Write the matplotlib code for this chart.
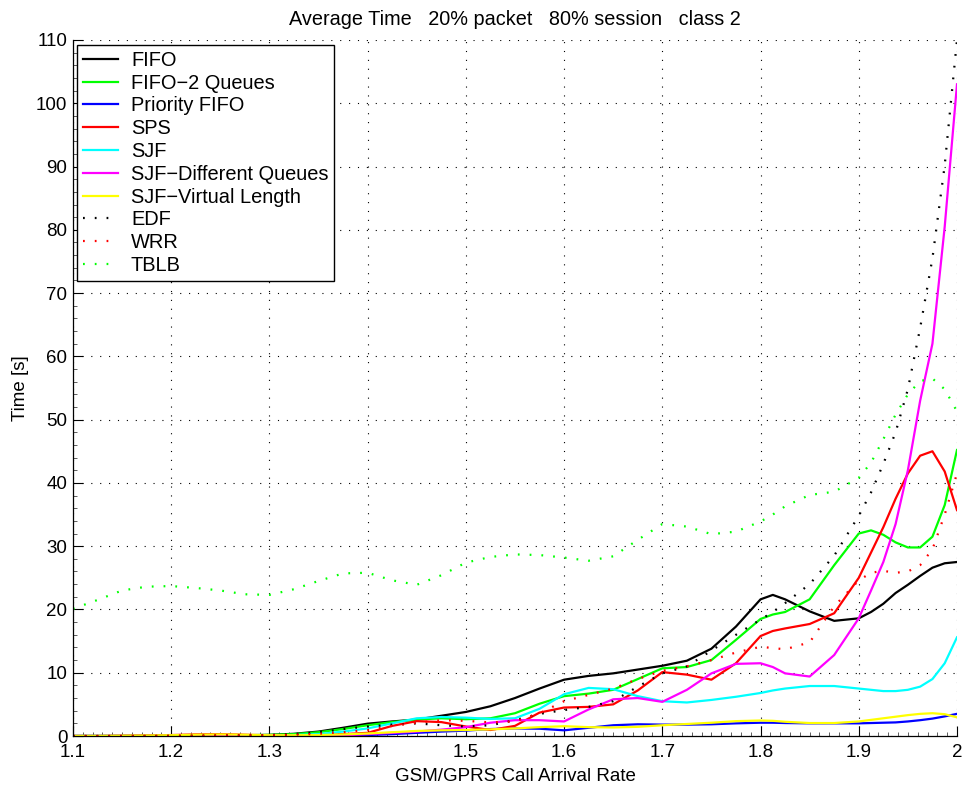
import matplotlib
matplotlib.use("Agg")
import matplotlib.pyplot as plt
from matplotlib.ticker import MultipleLocator, FixedLocator

plt.rcParams['font.family'] = ['Liberation Sans', 'DejaVu Sans']

# x positions (arrival rate) at which values were read
X = [1.1, 1.125, 1.15, 1.175, 1.2, 1.225, 1.25, 1.275, 1.3, 1.325, 1.35, 1.375,
     1.4, 1.425, 1.45, 1.475, 1.5, 1.525, 1.55, 1.575, 1.6, 1.625, 1.65, 1.675,
     1.7, 1.725, 1.75, 1.775, 1.8, 1.8125, 1.825, 1.85, 1.875, 1.9, 1.9125, 1.925,
     1.9375, 1.95, 1.9625, 1.975, 1.9875, 2.0]

fifo = [0, 0, 0, 0, 0.02, 0.05, 0.08, 0.12, 0.18, 0.35, 0.7, 1.3,
        1.95, 2.3, 2.6, 3.2, 3.8, 4.7, 6.0, 7.5, 8.9, 9.5, 9.9, 10.5,
        11.1, 11.9, 13.8, 17.3, 21.6, 22.3, 21.6, 19.7, 18.2, 18.6, 19.6, 20.9,
        22.6, 23.9, 25.3, 26.6, 27.3, 27.5]
fifo2q = [0, 0, 0, 0, 0.02, 0.05, 0.08, 0.12, 0.18, 0.3, 0.6, 1.1,
          1.7, 2.2, 2.6, 2.8, 2.65, 2.8, 3.6, 5.1, 6.3, 6.7, 7.3, 9.0,
          10.7, 10.9, 12.0, 15.2, 18.5, 19.2, 19.6, 21.6, 27.0, 32.0, 32.5, 31.8,
          30.6, 29.8, 29.8, 31.5, 36.5, 45.2]
prio_fifo = [0, 0, 0, 0, 0, 0.02, 0.03, 0.05, 0.05, 0.08, 0.1, 0.12,
             0.15, 0.3, 0.5, 0.7, 0.85, 1.1, 1.2, 1.15, 0.9, 1.3, 1.7, 1.85,
             1.8, 1.8, 1.85, 2.0, 2.1, 2.1, 2.05, 2.0, 2.0, 2.0, 2.05, 2.1,
             2.15, 2.3, 2.5, 2.75, 3.1, 3.5]
sps = [0, 0, 0.05, 0.1, 0.15, 0.25, 0.3, 0.2, 0.1, 0.12, 0.15, 0.3,
       0.5, 1.6, 2.35, 2.2, 1.5, 0.95, 1.6, 3.7, 4.5, 4.6, 5.0, 7.2,
       10.1, 9.7, 8.9, 11.5, 15.8, 16.6, 17.0, 17.7, 19.4, 25.0, 29.0, 33.0,
       37.5, 41.5, 44.3, 45.0, 41.8, 35.7]
sjf = [0, 0, 0, 0, 0.02, 0.05, 0.05, 0.08, 0.1, 0.15, 0.3, 0.7,
       1.2, 2.0, 2.8, 3.0, 2.9, 2.7, 2.8, 4.3, 6.6, 7.6, 7.4, 6.3,
       5.5, 5.3, 5.7, 6.2, 6.8, 7.2, 7.5, 7.9, 7.9, 7.5, 7.3, 7.1,
       7.1, 7.3, 7.8, 9.0, 11.5, 15.6]
sjf_dq = [0, 0, 0, 0, 0.02, 0.05, 0.08, 0.1, 0.1, 0.05, 0.05, 0.1,
          0.3, 0.5, 0.7, 1.0, 1.4, 2.1, 2.5, 2.5, 2.3, 4.2, 5.8, 6.0,
          5.4, 7.3, 9.9, 11.4, 11.5, 10.9, 9.9, 9.4, 12.8, 18.6, 23.0, 27.5,
          33.5, 42.0, 53.0, 62.0, 80.5, 103.0]
sjf_vl = [0.02, 0.02, 0.05, 0.08, 0.12, 0.2, 0.25, 0.2, 0.12, 0.12, 0.15, 0.25,
          0.4, 0.6, 0.8, 0.9, 0.95, 1.05, 1.2, 1.4, 1.55, 1.4, 1.35, 1.45,
          1.7, 1.9, 2.1, 2.35, 2.45, 2.4, 2.25, 2.05, 2.05, 2.3, 2.55, 2.8,
          3.05, 3.3, 3.5, 3.6, 3.45, 2.95]
edf = [0, 0, 0, 0, 0.02, 0.05, 0.08, 0.1, 0.15, 0.3, 0.6, 1.1,
       1.5, 1.8, 2.0, 1.7, 1.5, 1.7, 2.5, 3.5, 4.1, 4.6, 5.5, 7.8,
       9.9, 11.0, 13.5, 16.0, 18.4, 19.6, 21.0, 24.0, 28.5, 34.8, 38.5, 43.0,
       48.0, 54.8, 64.5, 75.5, 90.2, 110.0]
wrr = [0, 0, 0, 0, 0.02, 0.05, 0.08, 0.1, 0.12, 0.2, 0.35, 0.6,
       0.95, 1.6, 2.1, 2.5, 2.4, 2.15, 2.3, 3.6, 5.5, 6.5, 7.5, 9.0,
       10.3, 11.0, 12.0, 13.2, 14.1, 13.9, 13.7, 14.8, 20.5, 24.6, 25.8, 26.1,
       25.8, 26.0, 27.0, 29.5, 35.0, 41.5]
tblb = [20.1, 21.5, 23.0, 23.6, 23.7, 23.4, 23.0, 22.4, 22.3, 23.2, 24.5, 25.7,
        25.8, 24.6, 23.9, 25.4, 27.4, 28.3, 28.7, 28.6, 28.2, 27.7, 28.4, 31.0,
        33.5, 33.1, 31.9, 32.3, 33.9, 35.0, 36.3, 38.1, 38.6, 40.8, 43.2, 46.9,
        50.8, 54.0, 56.1, 56.5, 54.8, 51.3]

labels = ['FIFO', 'FIFO\u22122 Queues', 'Priority FIFO', 'SPS', 'SJF',
          'SJF\u2212Different Queues', 'SJF\u2212Virtual Length', 'EDF', 'WRR', 'TBLB']
series = [fifo, fifo2q, prio_fifo, sps, sjf, sjf_dq, sjf_vl, edf, wrr, tblb]
colors = ['#000000', '#00ff00', '#0000ff', '#ff0000', '#00ffff', '#ff00ff',
          '#ffff00', '#000000', '#ff0000', '#00ff00']
styles = ['-'] * 7 + [(0, (0.8, 4.5))] * 3

fig = plt.figure(figsize=(9.65, 7.92), dpi=100)
ax = fig.add_axes([0.0756, 0.0707, 0.9161, 0.8788])

for y, lab, c, ls in zip(series, labels, colors, styles):
    ax.plot(X, y, color=c, linestyle=ls, linewidth=1.6, label=lab)

ax.set_xlim(1.1, 2.0)
ax.set_ylim(0, 110)
xt = [1.1, 1.2, 1.3, 1.4, 1.5, 1.6, 1.7, 1.8, 1.9, 2.0]
ax.xaxis.set_major_locator(FixedLocator(xt))
ax.set_xticklabels(['1.1', '1.2', '1.3', '1.4', '1.5', '1.6', '1.7', '1.8', '1.9', '2'])
ax.yaxis.set_major_locator(MultipleLocator(10))
ax.xaxis.set_minor_locator(MultipleLocator(0.01))
ax.yaxis.set_minor_locator(MultipleLocator(2))
ax.tick_params(which='major', direction='in', length=7, width=0.8, labelsize=13.5,
               colors='black')
ax.tick_params(axis='x', which='major', pad=6)
ax.tick_params(axis='y', which='major', pad=4)
ax.tick_params(which='minor', direction='in', length=3, width=0.6, color='#444444')
ax.tick_params(axis='x', which='both', top=False)
ax.tick_params(axis='y', which='both', right=False)

for s in ['top', 'right']:
    ax.spines[s].set_visible(False)
for s in ['left', 'bottom']:
    ax.spines[s].set_linewidth(0.9)

ax.grid(True, which='major', color='black', linestyle=(0, (1, 7)), linewidth=0.8)
ax.set_axisbelow(True)

ax.set_title('Average Time   20% packet   80% session   class 2', fontsize=14.3, pad=11)
ax.set_xlabel('GSM/GPRS Call Arrival Rate', fontsize=13.5, labelpad=5)
ax.set_ylabel('Time [s]', fontsize=13.5, labelpad=5)

leg = ax.legend(loc='upper left', bbox_to_anchor=(0.0045, 0.993), borderaxespad=0,
                fontsize=14.4, handlelength=1.75, handletextpad=0.65,
                labelspacing=0.19, borderpad=0.3, frameon=True, fancybox=False,
                framealpha=1, edgecolor='black')
leg.get_frame().set_linewidth(1.0)

fig.savefig('out.png', dpi=100)
